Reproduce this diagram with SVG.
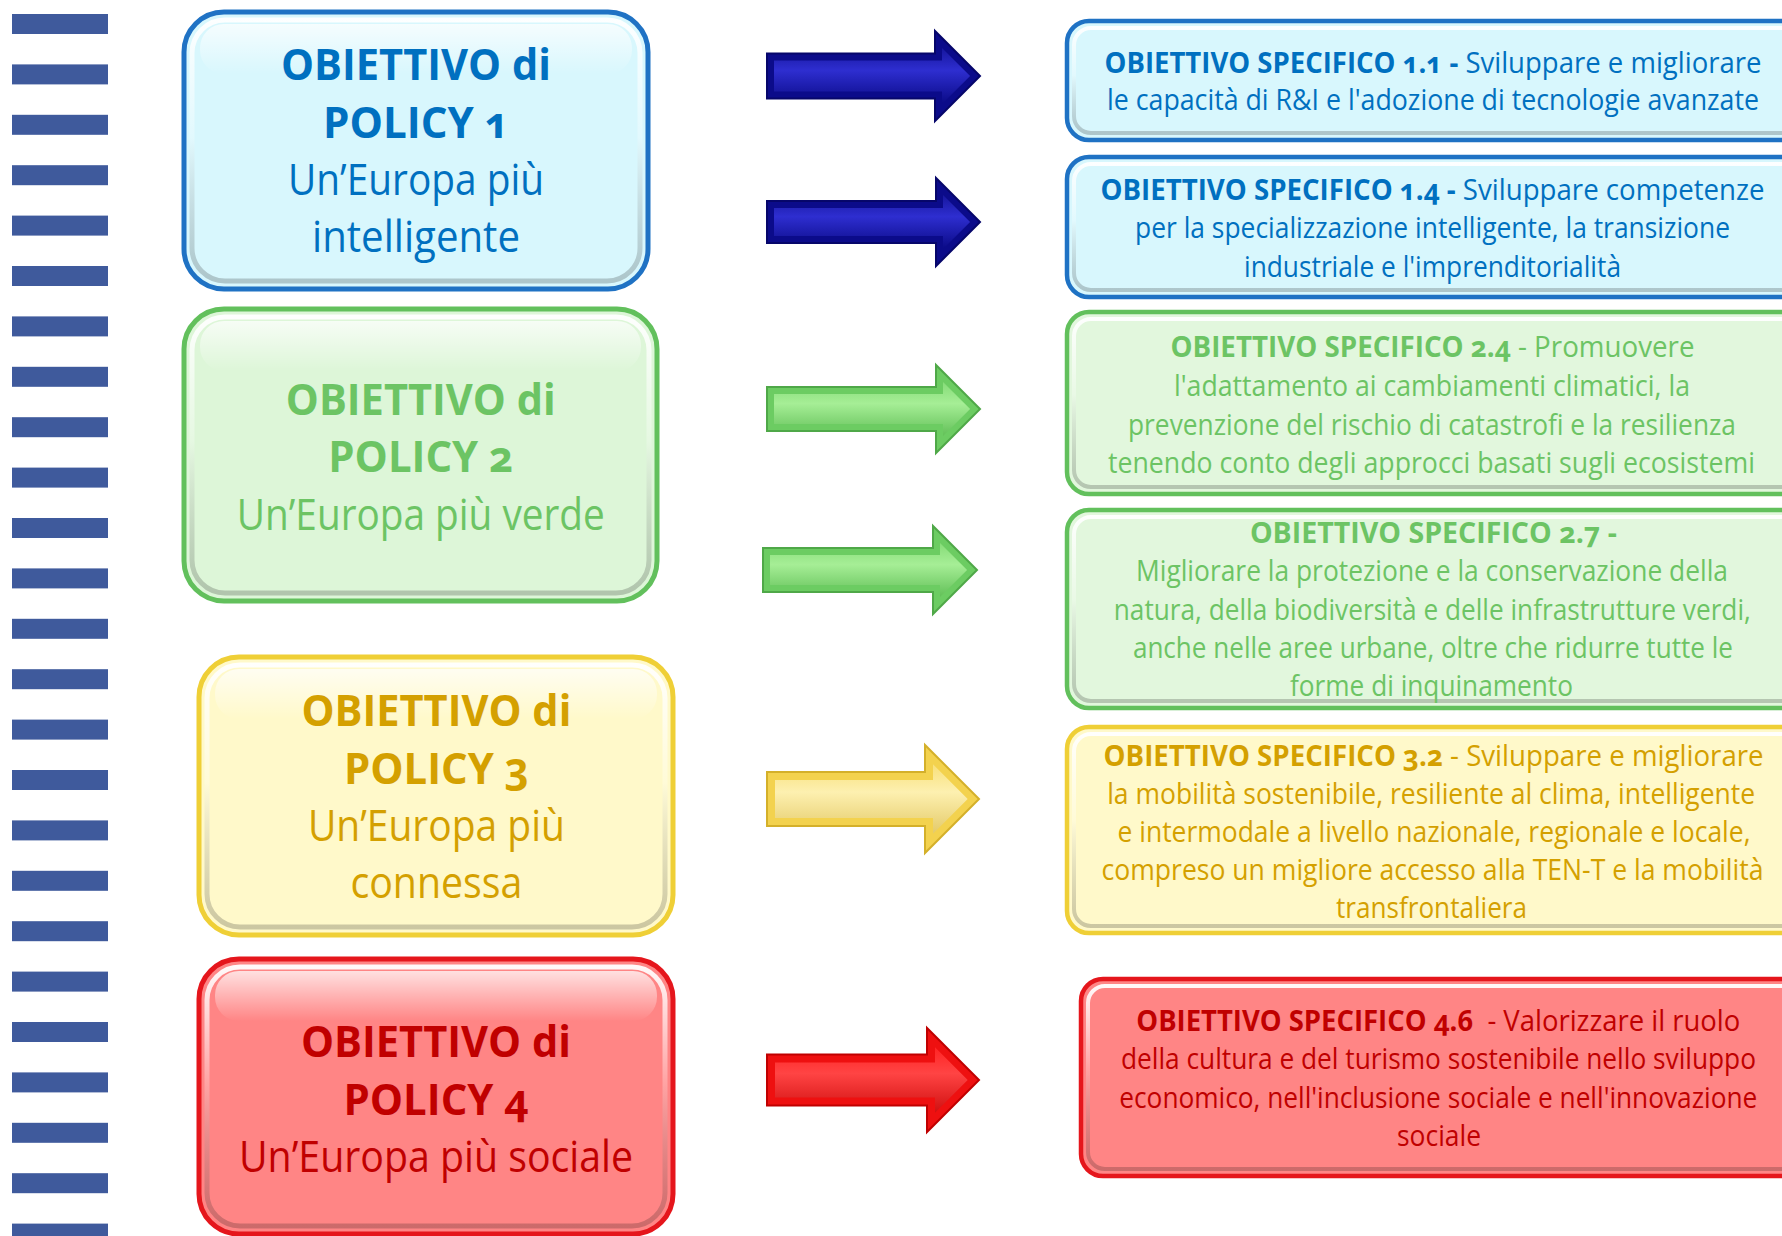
<svg xmlns="http://www.w3.org/2000/svg" width="1782" height="1236" viewBox="0 0 1782 1236">
<style>
.bar{fill:#3F5A9C}
.pt{font-family:"Open Sans","Liberation Sans",sans-serif;font-size:43px;text-anchor:middle;font-variant-numeric:oldstyle-nums}
.st{font-family:"Open Sans","Liberation Sans",sans-serif;font-size:23px;text-anchor:middle;font-variant-numeric:oldstyle-nums}
.b{font-weight:700}
.c1{fill:#0070C0}
.c2{fill:#6CC464}
.c3{fill:#D4A000}
.c4{fill:#C00000}
.bev{fill:none;stroke:url(#bev);stroke-width:5}
.gl{fill:url(#gloss)}
</style>
<defs>
<linearGradient id="bev" x1="0" y1="0" x2="0" y2="1">
<stop offset="0" stop-color="#ffffff" stop-opacity="0.95"/>
<stop offset="0.45" stop-color="#ffffff" stop-opacity="0.25"/>
<stop offset="1" stop-color="#000000" stop-opacity="0.2"/>
</linearGradient>
<linearGradient id="gloss" x1="0" y1="0" x2="0" y2="1">
<stop offset="0" stop-color="#ffffff" stop-opacity="0.75"/>
<stop offset="1" stop-color="#ffffff" stop-opacity="0"/>
</linearGradient>
<linearGradient id="gBlue" x1="0" y1="0" x2="0" y2="1">
<stop offset="0" stop-color="#16169E"/>
<stop offset="0.4" stop-color="#2E2ED0"/>
<stop offset="1" stop-color="#0A0A86"/>
</linearGradient>
<linearGradient id="gGreen" x1="0" y1="0" x2="0" y2="1">
<stop offset="0" stop-color="#86DC78"/>
<stop offset="0.4" stop-color="#A6EE96"/>
<stop offset="1" stop-color="#62C058"/>
</linearGradient>
<linearGradient id="gYellow" x1="0" y1="0" x2="0" y2="1">
<stop offset="0" stop-color="#F8E07A"/>
<stop offset="0.4" stop-color="#FDF0B0"/>
<stop offset="1" stop-color="#E4CA68"/>
</linearGradient>
<linearGradient id="gRed" x1="0" y1="0" x2="0" y2="1">
<stop offset="0" stop-color="#FF2424"/>
<stop offset="0.4" stop-color="#FF4444"/>
<stop offset="1" stop-color="#D01010"/>
</linearGradient>
</defs>
<rect width="1782" height="1236" fill="#ffffff"/>

<g id="bars">
<rect class="bar" x="12" y="14" width="96" height="20"/>
<rect class="bar" x="12" y="64.4" width="96" height="20"/>
<rect class="bar" x="12" y="114.8" width="96" height="20"/>
<rect class="bar" x="12" y="165.2" width="96" height="20"/>
<rect class="bar" x="12" y="215.6" width="96" height="20"/>
<rect class="bar" x="12" y="266" width="96" height="20"/>
<rect class="bar" x="12" y="316.4" width="96" height="20"/>
<rect class="bar" x="12" y="366.8" width="96" height="20"/>
<rect class="bar" x="12" y="417.2" width="96" height="20"/>
<rect class="bar" x="12" y="467.6" width="96" height="20"/>
<rect class="bar" x="12" y="518" width="96" height="20"/>
<rect class="bar" x="12" y="568.4" width="96" height="20"/>
<rect class="bar" x="12" y="618.8" width="96" height="20"/>
<rect class="bar" x="12" y="669.2" width="96" height="20"/>
<rect class="bar" x="12" y="719.6" width="96" height="20"/>
<rect class="bar" x="12" y="770" width="96" height="20"/>
<rect class="bar" x="12" y="820.4" width="96" height="20"/>
<rect class="bar" x="12" y="870.8" width="96" height="20"/>
<rect class="bar" x="12" y="921.2" width="96" height="20"/>
<rect class="bar" x="12" y="971.6" width="96" height="20"/>
<rect class="bar" x="12" y="1022" width="96" height="20"/>
<rect class="bar" x="12" y="1072.4" width="96" height="20"/>
<rect class="bar" x="12" y="1122.8" width="96" height="20"/>
<rect class="bar" x="12" y="1173.2" width="96" height="20"/>
<rect class="bar" x="12" y="1223.6" width="96" height="20"/>
</g>

<g id="policy1">
<rect x="184" y="12" width="464" height="277" rx="40" fill="#D8F7FD" stroke="#1F72C4" stroke-width="5"/>
<rect class="bev" x="192" y="20" width="448" height="261" rx="33"/>
<rect class="gl" x="200" y="24" width="432" height="50" rx="24"/>
<text class="pt b c1" x="416" y="80" textLength="270" lengthAdjust="spacingAndGlyphs">OBIETTIVO di</text>
<text class="pt b c1" x="416" y="137.5" textLength="186" lengthAdjust="spacingAndGlyphs">POLICY 1</text>
<text class="pt c1" x="416" y="194.5" textLength="256" lengthAdjust="spacingAndGlyphs">Un’Europa più</text>
<text class="pt c1" x="416" y="252" textLength="208" lengthAdjust="spacingAndGlyphs">intelligente</text>
</g>

<g id="policy2">
<rect x="184" y="309" width="473" height="292" rx="40" fill="#DDF6D8" stroke="#62C05C" stroke-width="5"/>
<rect class="bev" x="192" y="317" width="457" height="276" rx="33"/>
<rect class="gl" x="200" y="321" width="441" height="50" rx="24"/>
<text class="pt b c2" x="420.8" y="415" textLength="270" lengthAdjust="spacingAndGlyphs">OBIETTIVO di</text>
<text class="pt b c2" x="420.8" y="472" textLength="185" lengthAdjust="spacingAndGlyphs">POLICY 2</text>
<text class="pt c2" x="420.8" y="529.5" textLength="368" lengthAdjust="spacingAndGlyphs">Un’Europa più verde</text>
</g>

<g id="policy3">
<rect x="199" y="657" width="474" height="278" rx="40" fill="#FFF9CA" stroke="#EFCF36" stroke-width="5"/>
<rect class="bev" x="207" y="665" width="458" height="262" rx="33"/>
<rect class="gl" x="215" y="669" width="442" height="50" rx="24"/>
<text class="pt b c3" x="436.4" y="726" textLength="270" lengthAdjust="spacingAndGlyphs">OBIETTIVO di</text>
<text class="pt b c3" x="436.4" y="784" textLength="185" lengthAdjust="spacingAndGlyphs">POLICY 3</text>
<text class="pt c3" x="436.4" y="840.5" textLength="257" lengthAdjust="spacingAndGlyphs">Un’Europa più</text>
<text class="pt c3" x="436.4" y="898" textLength="172" lengthAdjust="spacingAndGlyphs">connessa</text>
</g>

<g id="policy4">
<rect x="199" y="959" width="474" height="275" rx="40" fill="#FF8585" stroke="#E5161C" stroke-width="5"/>
<rect class="bev" x="207" y="967" width="458" height="259" rx="33"/>
<rect class="gl" x="215" y="971" width="442" height="50" rx="24"/>
<text class="pt b c4" x="436" y="1057" textLength="270" lengthAdjust="spacingAndGlyphs">OBIETTIVO di</text>
<text class="pt b c4" x="436" y="1115" textLength="185" lengthAdjust="spacingAndGlyphs">POLICY 4</text>
<text class="pt c4" x="436" y="1172" textLength="394" lengthAdjust="spacingAndGlyphs">Un’Europa più sociale</text>
</g>

<g id="spec11">
<rect x="1067" y="21" width="740" height="119" rx="22" fill="#D8F7FD" stroke="#1F72C4" stroke-width="4.5"/>
<rect class="bev" x="1074" y="28" width="726" height="105" rx="17" style="stroke-width:4"/>
<text class="st c1" x="1433" y="0" transform="translate(0,73) scale(1,1.26)" textLength="657" lengthAdjust="spacingAndGlyphs"><tspan class="b">OBIETTIVO SPECIFICO 1.1 -</tspan> Sviluppare e migliorare</text>
<text class="st c1" x="1433" y="0" transform="translate(0,110) scale(1,1.26)" textLength="652" lengthAdjust="spacingAndGlyphs">le capacità di R&amp;I e l'adozione di tecnologie avanzate</text>
</g>

<g id="spec14">
<rect x="1067" y="157" width="740" height="140" rx="22" fill="#D8F7FD" stroke="#1F72C4" stroke-width="4.5"/>
<rect class="bev" x="1074" y="164" width="726" height="126" rx="17" style="stroke-width:4"/>
<text class="st c1" x="1432.5" y="0" transform="translate(0,200) scale(1,1.26)" textLength="664" lengthAdjust="spacingAndGlyphs"><tspan class="b">OBIETTIVO SPECIFICO 1.4 -</tspan> Sviluppare competenze</text>
<text class="st c1" x="1432.5" y="0" transform="translate(0,238) scale(1,1.26)" textLength="595" lengthAdjust="spacingAndGlyphs">per la specializzazione intelligente, la transizione</text>
<text class="st c1" x="1432.5" y="0" transform="translate(0,277) scale(1,1.26)" textLength="377" lengthAdjust="spacingAndGlyphs">industriale e l'imprenditorialità</text>
</g>

<g id="spec24">
<rect x="1067" y="312" width="740" height="182" rx="22" fill="#E2F7DD" stroke="#62C05C" stroke-width="4.5"/>
<rect class="bev" x="1074" y="319" width="726" height="168" rx="17" style="stroke-width:4"/>
<text class="st c2" x="1432.5" y="0" transform="translate(0,357) scale(1,1.26)" textLength="524" lengthAdjust="spacingAndGlyphs"><tspan class="b">OBIETTIVO SPECIFICO 2.4</tspan> - Promuovere</text>
<text class="st c2" x="1432" y="0" transform="translate(0,396) scale(1,1.26)" textLength="516" lengthAdjust="spacingAndGlyphs">l'adattamento ai cambiamenti climatici, la</text>
<text class="st c2" x="1432" y="0" transform="translate(0,434.5) scale(1,1.26)" textLength="608" lengthAdjust="spacingAndGlyphs">prevenzione del rischio di catastrofi e la resilienza</text>
<text class="st c2" x="1431.5" y="0" transform="translate(0,472.5) scale(1,1.26)" textLength="647" lengthAdjust="spacingAndGlyphs">tenendo conto degli approcci basati sugli ecosistemi</text>
</g>

<g id="spec27">
<rect x="1067" y="510" width="740" height="198" rx="22" fill="#E2F7DD" stroke="#62C05C" stroke-width="4.5"/>
<rect class="bev" x="1074" y="517" width="726" height="184" rx="17" style="stroke-width:4"/>
<text class="st b c2" x="1433.4" y="0" transform="translate(0,543) scale(1,1.26)" textLength="367" lengthAdjust="spacingAndGlyphs">OBIETTIVO SPECIFICO 2.7 -</text>
<text class="st c2" x="1432" y="0" transform="translate(0,581) scale(1,1.26)" textLength="592" lengthAdjust="spacingAndGlyphs">Migliorare la protezione e la conservazione della</text>
<text class="st c2" x="1432.3" y="0" transform="translate(0,619.5) scale(1,1.26)" textLength="637" lengthAdjust="spacingAndGlyphs">natura, della biodiversità e delle infrastrutture verdi,</text>
<text class="st c2" x="1432.9" y="0" transform="translate(0,658) scale(1,1.26)" textLength="600" lengthAdjust="spacingAndGlyphs">anche nelle aree urbane, oltre che ridurre tutte le</text>
<text class="st c2" x="1431.5" y="0" transform="translate(0,696) scale(1,1.26)" textLength="283" lengthAdjust="spacingAndGlyphs">forme di inquinamento</text>
</g>

<g id="spec32">
<rect x="1067" y="727" width="740" height="206" rx="22" fill="#FFF9CA" stroke="#EFCF36" stroke-width="4.5"/>
<rect class="bev" x="1074" y="734" width="726" height="192" rx="17" style="stroke-width:4"/>
<text class="st c3" x="1433.6" y="0" transform="translate(0,765.5) scale(1,1.26)" textLength="660" lengthAdjust="spacingAndGlyphs"><tspan class="b">OBIETTIVO SPECIFICO 3.2</tspan> - Sviluppare e migliorare</text>
<text class="st c3" x="1431.2" y="0" transform="translate(0,803.5) scale(1,1.26)" textLength="648" lengthAdjust="spacingAndGlyphs">la mobilità sostenibile, resiliente al clima, intelligente</text>
<text class="st c3" x="1434" y="0" transform="translate(0,841.5) scale(1,1.26)" textLength="633" lengthAdjust="spacingAndGlyphs">e intermodale a livello nazionale, regionale e locale,</text>
<text class="st c3" x="1432.5" y="0" transform="translate(0,879.5) scale(1,1.26)" textLength="662" lengthAdjust="spacingAndGlyphs">compreso un migliore accesso alla TEN-T e la mobilità</text>
<text class="st c3" x="1431.5" y="0" transform="translate(0,918) scale(1,1.26)" textLength="191" lengthAdjust="spacingAndGlyphs">transfrontaliera</text>
</g>

<g id="spec46">
<rect x="1081" y="979" width="730" height="197" rx="22" fill="#FF8585" stroke="#E5161C" stroke-width="4.5"/>
<rect class="bev" x="1088" y="986" width="716" height="183" rx="17" style="stroke-width:4"/>
<text class="st c4" x="1438.3" y="0" transform="translate(0,1031) scale(1,1.26)" textLength="604" lengthAdjust="spacingAndGlyphs" xml:space="preserve"><tspan class="b">OBIETTIVO SPECIFICO 4.6</tspan>  - Valorizzare il ruolo</text>
<text class="st c4" x="1438.5" y="0" transform="translate(0,1069) scale(1,1.26)" textLength="635" lengthAdjust="spacingAndGlyphs">della cultura e del turismo sostenibile nello sviluppo</text>
<text class="st c4" x="1438.3" y="0" transform="translate(0,1107.5) scale(1,1.26)" textLength="638" lengthAdjust="spacingAndGlyphs">economico, nell'inclusione sociale e nell'innovazione</text>
<text class="st c4" x="1439" y="0" transform="translate(0,1146) scale(1,1.26)" textLength="84" lengthAdjust="spacingAndGlyphs">sociale</text>
</g>

<g id="connectors">
<g id="arrow1">
<polygon points="767,53.5 935,53.5 935,31 980,76 935,121 935,98.5 767,98.5" fill="#0B0B8A" stroke="#06066A" stroke-width="2"/>
<polygon points="774,60.5 942,60.5 942,47.9 970.1,76 942,104.1 942,91.5 774,91.5" fill="url(#gBlue)"/>
</g>
<g id="arrow2">
<polygon points="767,201 936,201 936,178 980,222 936,266 936,243 767,243" fill="#0B0B8A" stroke="#06066A" stroke-width="2"/>
<polygon points="774,208 943,208 943,194.9 970.1,222 943,249.1 943,236 774,236" fill="url(#gBlue)"/>
</g>
<g id="arrow3">
<polygon points="767,387 936,387 936,365 980,409 936,453 936,431 767,431" fill="#6CCC62" stroke="#4FA848" stroke-width="2"/>
<polygon points="774,394 943,394 943,381.9 970.1,409 943,436.1 943,424 774,424" fill="url(#gGreen)"/>
</g>
<g id="arrow4">
<polygon points="763,548 933,548 933,526 977,570 933,614 933,592 763,592" fill="#6CCC62" stroke="#4FA848" stroke-width="2"/>
<polygon points="770,555 940,555 940,542.9 967.1,570 940,597.1 940,585 770,585" fill="url(#gGreen)"/>
</g>
<g id="arrow5">
<polygon points="767,772 925,772 925,745 979,799 925,853 925,826 767,826" fill="#F3D24E" stroke="#D4B02A" stroke-width="2"/>
<polygon points="775,780 933,780 933,764.3 967.7,799 933,833.7 933,818 775,818" fill="url(#gYellow)"/>
</g>
<g id="arrow6">
<polygon points="767,1054.5 927,1054.5 927,1028 979,1080 927,1132 927,1105.5 767,1105.5" fill="#EE1010" stroke="#C00000" stroke-width="2"/>
<polygon points="775,1062.5 935,1062.5 935,1047.3 967.7,1080 935,1112.7 935,1097.5 775,1097.5" fill="url(#gRed)"/>
</g>
</g>
</svg>
